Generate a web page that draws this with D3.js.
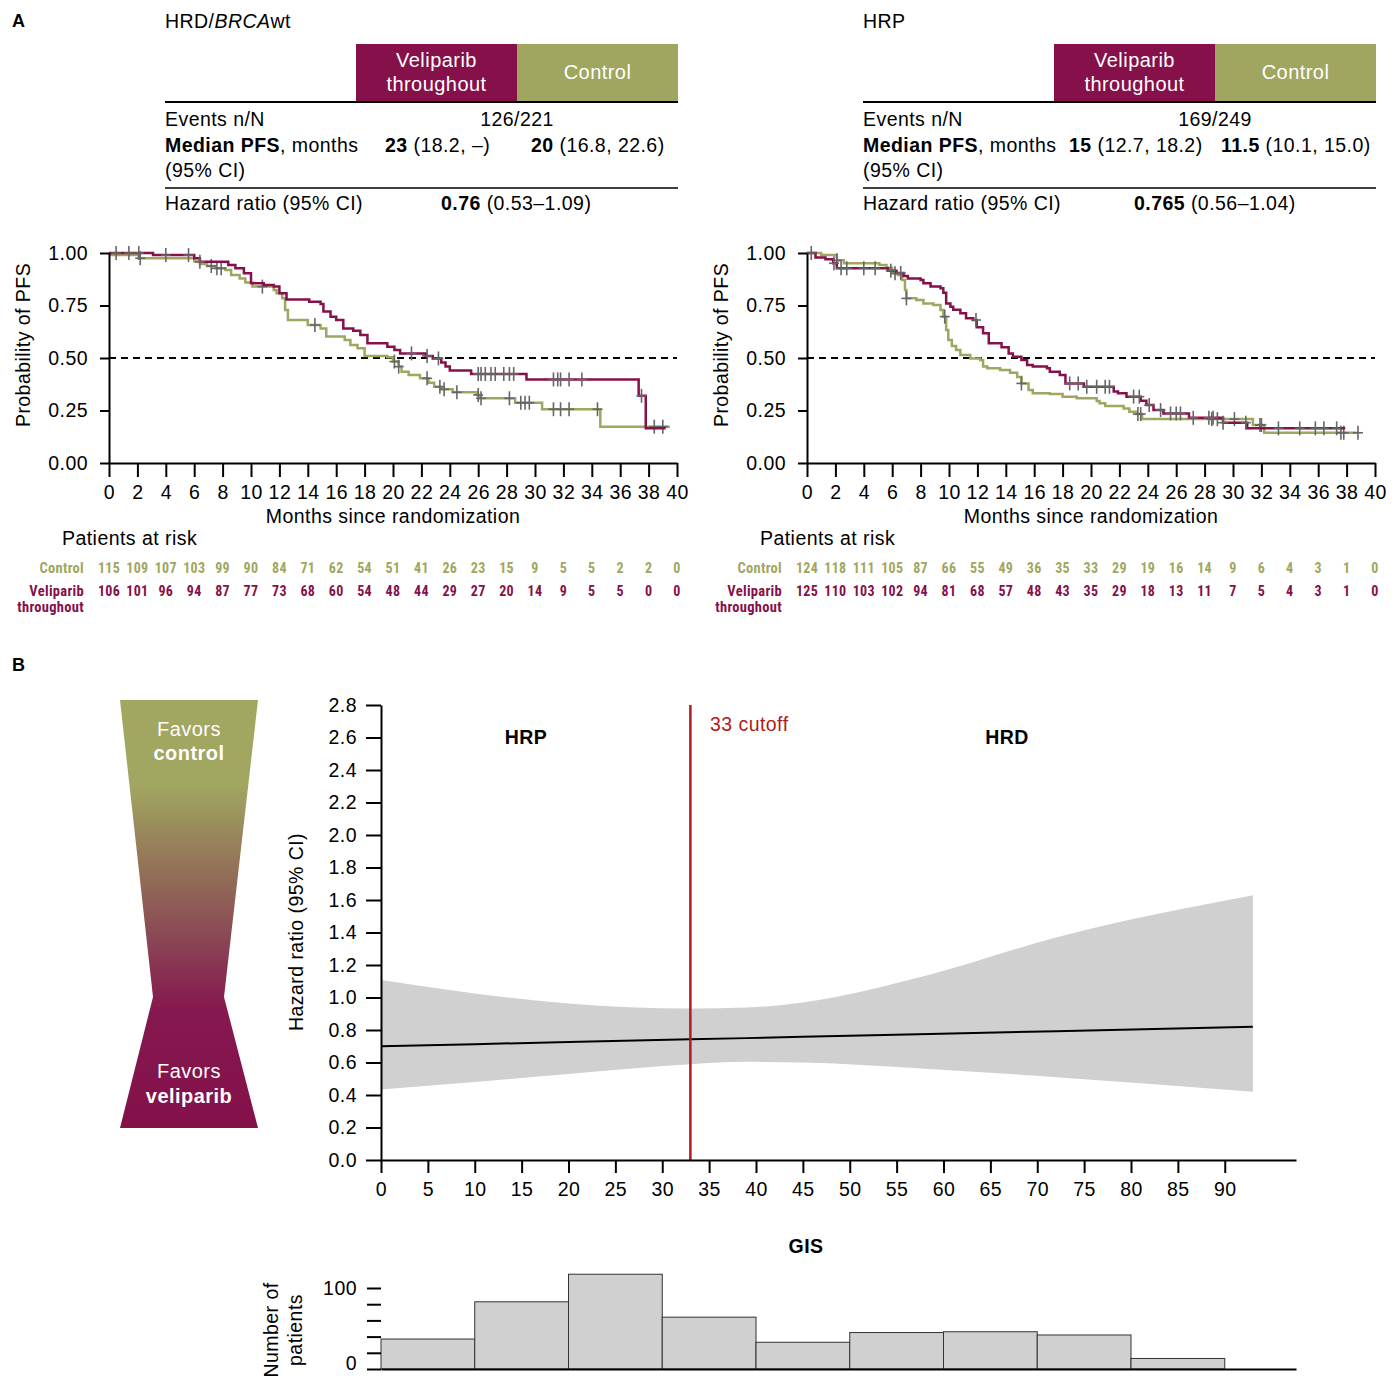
<!DOCTYPE html>
<html>
<head>
<meta charset="utf-8">
<script src="https://cdn.jsdelivr.net/npm/d3@7"></script>
<style>
  body { margin: 0; background: #fff; }
  svg { font-family: "Liberation Sans", Arial, sans-serif; }
  svg text { letter-spacing: 0.45px; }
  svg text.narrow { font-family: "Liberation Sans Narrow", "Arial Narrow", "Roboto Condensed", "Liberation Sans", sans-serif; letter-spacing: 0.3px; }
</style>
</head>
<body>
<svg id="fig" width="1399" height="1378"></svg>
<script>
// ---- data ----
const PURPLE = "#85104a", GREEN = "#a0a660", CENS = "#666";
const FS = 19.5; // base font size

const riskMonths = d3.range(0, 42, 2);
const riskLeftControl = [115,109,107,103,99,90,84,71,62,54,51,41,26,23,15,9,5,5,2,2,0];
const riskLeftVeli    = [106,101,96,94,87,77,73,68,60,54,48,44,29,27,20,14,9,5,5,0,0];
const riskRightControl = [124,118,111,105,87,66,55,49,36,35,33,29,19,16,14,9,6,4,3,1,0];
const riskRightVeli    = [125,110,103,102,94,81,68,57,48,43,35,29,18,13,11,7,5,4,3,1,0];

// KM steps [month, survival]
const kmLeftVeli = [[0,1.0],[3.1,0.99],[6.0,0.975],[6.4,0.958],[8.4,0.943],[8.9,0.927],[9.5,0.903],[10.0,0.856],[10.9,0.848],[11.6,0.84],[12.0,0.808],[12.5,0.779],[14.1,0.768],[14.9,0.757],[15.1,0.721],[15.6,0.697],[16.0,0.681],[16.5,0.641],[17.2,0.63],[17.7,0.61],[18.2,0.57],[19.6,0.554],[20.1,0.538],[20.5,0.522],[22.3,0.51],[22.8,0.498],[23.4,0.478],[23.7,0.459],[24.0,0.44],[25.5,0.424],[29.4,0.398],[37.3,0.32],[37.8,0.165]];
const kmLeftVeliEnd = 39.2;
const kmLeftCtrl = [[0,0.991],[2.1,0.975],[6.0,0.959],[6.4,0.948],[6.9,0.938],[7.5,0.927],[8.2,0.919],[8.6,0.895],[9.2,0.879],[9.6,0.859],[10.1,0.84],[11.6,0.824],[11.8,0.808],[12.2,0.784],[12.4,0.729],[12.6,0.681],[14.0,0.657],[14.9,0.641],[15.3,0.602],[16.6,0.586],[17.0,0.562],[17.5,0.546],[18.0,0.51],[19.6,0.503],[20.0,0.483],[20.4,0.459],[20.6,0.435],[21.1,0.419],[21.9,0.403],[22.5,0.382],[22.9,0.363],[23.4,0.351],[24.2,0.337],[25.9,0.324],[26.1,0.308],[28.6,0.287],[30.5,0.256],[34.6,0.173]];
const kmLeftCtrlEnd = 39.5;
const censLeftVeli = [0.5,1.4,2.1,4.0,5.6,6.4,21.3,22.4,23.2,26.0,26.2,26.5,26.9,27.2,27.8,28.2,28.5,31.3,31.6,31.8,32.4,33.3,37.5];
const censLeftCtrl = [2.2,7.2,7.6,7.9,10.8,14.5,20.1,20.4,22.4,23.3,23.6,24.5,26.0,26.2,28.2,29.0,29.3,29.6,31.3,31.8,32.4,34.4,38.4,39.0];

const kmRightVeli = [[0,1.0],[0.6,0.979],[1.3,0.97],[1.85,0.951],[2.1,0.927],[5.7,0.916],[6.3,0.905],[6.8,0.89],[7.1,0.879],[8.0,0.871],[8.2,0.856],[8.7,0.84],[9.4,0.832],[9.6,0.811],[9.8,0.76],[10.1,0.744],[10.3,0.73],[10.8,0.713],[11.2,0.689],[11.7,0.681],[11.95,0.646],[12.4,0.618],[12.8,0.57],[13.7,0.551],[14.2,0.522],[14.5,0.506],[15.1,0.49],[15.5,0.467],[15.9,0.459],[16.9,0.451],[17.1,0.435],[17.8,0.419],[18.2,0.379],[19.5,0.363],[21.6,0.34],[21.9,0.332],[22.5,0.316],[23.5,0.297],[23.9,0.276],[24.4,0.252],[25.1,0.236],[26.9,0.215],[29.3,0.192],[31.0,0.165]];
const kmRightVeliEnd = 37.9;
const kmRightCtrl = [[0,1.0],[1.0,0.99],[2.1,0.965],[2.6,0.951],[5.1,0.943],[5.6,0.93],[6.0,0.903],[6.4,0.895],[6.7,0.871],[6.9,0.824],[7.0,0.784],[7.7,0.776],[8.2,0.76],[8.9,0.752],[9.4,0.729],[9.6,0.697],[9.8,0.633],[9.95,0.586],[10.2,0.557],[10.5,0.538],[10.8,0.514],[11.5,0.498],[12.2,0.49],[12.4,0.459],[12.7,0.451],[13.6,0.443],[14.3,0.43],[14.8,0.41],[15.1,0.379],[15.6,0.348],[15.9,0.332],[17.1,0.328],[18.0,0.316],[19.0,0.308],[20.4,0.295],[20.6,0.284],[21.0,0.271],[22.3,0.26],[22.7,0.244],[23.2,0.233],[23.6,0.209],[31.4,0.181],[32.2,0.144]];
const kmRightCtrlEnd = 38.7;
const censRightVeli = [0.3,1.9,2.4,2.8,4.0,4.8,5.9,6.6,11.9,18.5,19.1,19.7,20.4,21.0,21.3,23.0,23.4,24.1,24.9,25.6,26.0,26.3,27.2,28.3,28.6,29.3,30.9,33.2,34.7,35.8,36.4,37.3];
const censRightCtrl = [2.1,6.2,7.0,9.7,15.1,23.3,23.5,28.5,28.9,30.1,31.9,32.0,37.6,37.8,38.8];

// panel B: spline HR by GIS score
const gisX    = [0, 10, 20, 33, 39, 45, 58.5, 72, 93];
const hrFit   = [0.70, 0.713, 0.726, 0.743, 0.75, 0.758, 0.776, 0.793, 0.82];
const hrUpper = [1.107, 1.025, 0.963, 0.932, 0.938, 0.97, 1.14, 1.37, 1.63];
const hrLower = [0.434, 0.48, 0.53, 0.59, 0.604, 0.60, 0.56, 0.51, 0.42];
const gisCutoff = 33;
const hrTicks = d3.range(0, 2.81, 0.2);
const gisTicks = d3.range(0, 91, 5);

// GIS histogram
const gisBinStart = [0, 10, 20, 30, 40, 50, 60, 70, 80];
const gisCounts   = [37, 83, 117, 64, 33, 45, 46, 42, 13];

// ---- drawing ----
const svg = d3.select("#fig");

function styleAxis(g) {
  g.selectAll("path, line").attr("stroke", "#000").attr("stroke-width", 2);
  g.selectAll("text").attr("font-size", FS).attr("fill", "#000")
    .attr("font-family", '"Liberation Sans", Arial, sans-serif');
}

function survAt(steps, t) {
  let s = steps[0][1];
  steps.forEach(d => { if (d[0] <= t) s = d[1]; });
  return s;
}

function drawHeader(dx, cfg) {
  const g = svg.append("g").attr("transform", `translate(${dx},0)`);
  const t = g.append("text").attr("x", 165).attr("y", 28).attr("font-size", FS);
  cfg.title.forEach(p => t.append("tspan").text(p[0]).attr("font-style", p[1] ? "italic" : null));

  g.append("rect").attr("x", 356).attr("y", 44).attr("width", 161).attr("height", 58).attr("fill", PURPLE);
  g.append("rect").attr("x", 517).attr("y", 44).attr("width", 161).attr("height", 58).attr("fill", GREEN);
  g.append("text").attr("x", 436.5).attr("y", 67).attr("text-anchor", "middle").attr("fill", "#fff").attr("font-size", 20).text("Veliparib");
  g.append("text").attr("x", 436.5).attr("y", 91).attr("text-anchor", "middle").attr("fill", "#fff").attr("font-size", 20).text("throughout");
  g.append("text").attr("x", 597.5).attr("y", 79).attr("text-anchor", "middle").attr("fill", "#fff").attr("font-size", 20).text("Control");

  g.append("line").attr("x1", 165).attr("x2", 678).attr("y1", 102).attr("y2", 102).attr("stroke", "#000").attr("stroke-width", 2);
  g.append("line").attr("x1", 165).attr("x2", 678).attr("y1", 188).attr("y2", 188).attr("stroke", "#000").attr("stroke-width", 1.5);

  const txt = (x, y, parts, anchor) => {
    const e = g.append("text").attr("x", x).attr("y", y).attr("font-size", FS).attr("text-anchor", anchor || "start");
    parts.forEach(p => e.append("tspan").text(p[0]).attr("font-weight", p[1] ? "bold" : null));
  };
  txt(165, 126, [["Events n/N", 0]]);
  txt(517, 126, [[cfg.events, 0]], "middle");
  txt(165, 152, [["Median PFS", 1], [", months", 0]]);
  txt(cfg.medVx, 152, [[cfg.medV[0], 1], [cfg.medV[1], 0]]);
  txt(cfg.medCx, 152, [[cfg.medC[0], 1], [cfg.medC[1], 0]]);
  txt(165, 177, [["(95% CI)", 0]]);
  txt(165, 210, [["Hazard ratio (95% CI)", 0]]);
  txt(cfg.hrx, 210, [[cfg.hr[0], 1], [cfg.hr[1], 0]]);
}

function drawKM(dx, veli, veliEnd, ctrl, ctrlEnd, censV, censC, riskC, riskV) {
  const x = d3.scaleLinear().domain([0, 40]).range([109 + dx, 677 + dx]);
  const y = d3.scaleLinear().domain([0, 1]).range([463, 253]);

  svg.append("line").attr("x1", x(0)).attr("x2", x(40)).attr("y1", y(0.5)).attr("y2", y(0.5))
    .attr("stroke", "#000").attr("stroke-width", 2).attr("stroke-dasharray", "7,5");

  const line = d3.line().x(d => x(d[0])).y(d => y(d[1])).curve(d3.curveStepAfter);
  [[ctrl, ctrlEnd, GREEN, censC], [veli, veliEnd, PURPLE, censV]].forEach(([steps, end, col, cens]) => {
    const pts = steps.concat([[end, steps[steps.length - 1][1]]]);
    svg.append("path").attr("d", line(pts)).attr("fill", "none").attr("stroke", col).attr("stroke-width", 2.5);
    const cg = svg.append("g").attr("stroke", CENS).attr("stroke-width", 1.6);
    cens.forEach(t => {
      const cx = x(t), cy = y(survAt(steps, t));
      cg.append("line").attr("x1", cx).attr("x2", cx).attr("y1", cy - 7).attr("y2", cy + 7);
      cg.append("line").attr("x1", cx - 5).attr("x2", cx + 5).attr("y1", cy).attr("y2", cy);
    });
  });

  svg.append("g").attr("transform", "translate(0,463)")
    .call(d3.axisBottom(x).tickValues(riskMonths).tickSize(14).tickPadding(8).tickSizeOuter(0))
    .call(styleAxis);
  svg.append("g").attr("transform", `translate(${109 + dx},0)`)
    .call(d3.axisLeft(y).tickValues([0, 0.25, 0.5, 0.75, 1]).tickFormat(d3.format(".2f")).tickSize(9).tickPadding(12).tickSizeOuter(0))
    .call(styleAxis);

  svg.append("text").attr("x", x(20)).attr("y", 523).attr("text-anchor", "middle").attr("font-size", FS).text("Months since randomization");
  svg.append("text").attr("transform", `translate(${30 + dx},345) rotate(-90)`).attr("text-anchor", "middle").attr("font-size", FS).text("Probability of PFS");

  svg.append("text").attr("x", 62 + dx).attr("y", 545).attr("font-size", FS).text("Patients at risk");
  const rows = [[riskC, GREEN, 573, ["Control"]], [riskV, PURPLE, 596, ["Veliparib", "throughout"]]];
  rows.forEach(([vals, col, yy, label]) => {
    label.forEach((l, i) => svg.append("text").attr("class", "narrow").attr("x", 84 + dx).attr("y", yy + i * 16)
      .attr("text-anchor", "end").attr("font-size", 14.5).attr("font-weight", "bold").attr("fill", col).text(l));
    vals.forEach((v, i) => svg.append("text").attr("class", "narrow").attr("x", x(riskMonths[i])).attr("y", yy)
      .attr("text-anchor", "middle").attr("font-size", 14).attr("font-weight", "bold").attr("fill", col).text(v));
  });
}

svg.append("text").attr("x", 12).attr("y", 27).attr("font-size", 18).attr("font-weight", "bold").text("A");
drawHeader(0, { title: [["HRD/", 0], ["BRCA", 1], ["wt", 0]], events: "126/221",
  medVx: 385, medV: ["23", " (18.2, \u2013)"], medCx: 531, medC: ["20", " (16.8, 22.6)"], hrx: 441, hr: ["0.76", " (0.53\u20131.09)"] });
drawHeader(698, { title: [["HRP", 0]], events: "169/249",
  medVx: 371, medV: ["15", " (12.7, 18.2)"], medCx: 523, medC: ["11.5", " (10.1, 15.0)"], hrx: 436, hr: ["0.765", " (0.56\u20131.04)"] });
drawKM(0, kmLeftVeli, kmLeftVeliEnd, kmLeftCtrl, kmLeftCtrlEnd, censLeftVeli, censLeftCtrl, riskLeftControl, riskLeftVeli);
drawKM(698, kmRightVeli, kmRightVeliEnd, kmRightCtrl, kmRightCtrlEnd, censRightVeli, censRightCtrl, riskRightControl, riskRightVeli);

// ---- panel B ----
svg.append("text").attr("x", 12).attr("y", 671).attr("font-size", 18).attr("font-weight", "bold").text("B");

const grad = svg.append("defs").append("linearGradient").attr("id", "fav")
  .attr("gradientUnits", "userSpaceOnUse").attr("x1", 0).attr("x2", 0).attr("y1", 700).attr("y2", 1128);
[[0, "#a1a660"], [0.2, "#a1a660"], [0.38, "#947558"], [0.55, "#8a4955"], [0.72, "#85194f"], [1, "#84104a"]]
  .forEach(s => grad.append("stop").attr("offset", s[0]).attr("stop-color", s[1]));
svg.append("polygon").attr("points", "120,700 258,700 224,997 258,1128 120,1128 153,997").attr("fill", "url(#fav)");
[["Favors", 736, null], ["control", 760, "bold"], ["Favors", 1078, null], ["veliparib", 1103, "bold"]].forEach(d =>
  svg.append("text").attr("x", 189).attr("y", d[1]).attr("text-anchor", "middle").attr("fill", "#fff")
    .attr("font-size", 20).attr("font-weight", d[2]).text(d[0]));

const gx = d3.scaleLinear().domain([0, 97.6]).range([381, 1296]);
const gy = d3.scaleLinear().domain([0, 2.8]).range([1160, 705]);
const band = gisX.map((g, i) => ({ g, lo: hrLower[i], hi: hrUpper[i], fit: hrFit[i] }));

svg.append("path").datum(band).attr("fill", "#d0d0d0")
  .attr("d", d3.area().x(d => gx(d.g)).y0(d => gy(d.lo)).y1(d => gy(d.hi)).curve(d3.curveMonotoneX));
svg.append("path").datum(band).attr("fill", "none").attr("stroke", "#000").attr("stroke-width", 2)
  .attr("d", d3.line().x(d => gx(d.g)).y(d => gy(d.fit)));
svg.append("line").attr("x1", gx(gisCutoff)).attr("x2", gx(gisCutoff)).attr("y1", gy(2.8)).attr("y2", gy(0))
  .attr("stroke", "#b01c1c").attr("stroke-width", 2.5);

svg.append("g").attr("transform", "translate(0,1160)")
  .call(d3.axisBottom(gx).tickValues(gisTicks).tickSize(13).tickPadding(9).tickSizeOuter(0))
  .call(styleAxis);
svg.append("g").attr("transform", "translate(381,0)")
  .call(d3.axisLeft(gy).tickValues(hrTicks).tickFormat(d3.format(".1f")).tickSize(15).tickPadding(9).tickSizeOuter(0))
  .call(styleAxis);

svg.append("text").attr("transform", "translate(303,932) rotate(-90)").attr("text-anchor", "middle").attr("font-size", FS).text("Hazard ratio (95% CI)");
svg.append("text").attr("x", 526).attr("y", 744).attr("text-anchor", "middle").attr("font-size", FS).attr("font-weight", "bold").text("HRP");
svg.append("text").attr("x", 1007).attr("y", 744).attr("text-anchor", "middle").attr("font-size", FS).attr("font-weight", "bold").text("HRD");
svg.append("text").attr("x", 710).attr("y", 731).attr("font-size", FS).attr("fill", "#b01c1c").text(gisCutoff + " cutoff");

// histogram
const hy = d3.scaleLinear().domain([0, 100]).range([1369, 1288]);
svg.append("text").attr("x", 806).attr("y", 1253).attr("text-anchor", "middle").attr("font-size", FS).attr("font-weight", "bold").text("GIS");
svg.append("g").selectAll("rect").data(gisBinStart).join("rect")
  .attr("x", d => gx(d)).attr("width", d => gx(d + 10) - gx(d))
  .attr("y", (d, i) => hy(gisCounts[i])).attr("height", (d, i) => hy(0) - hy(gisCounts[i]))
  .attr("fill", "#d0d0d0").attr("stroke", "#333").attr("stroke-width", 1);
svg.append("g").attr("transform", "translate(0,1369)")
  .call(d3.axisBottom(gx).tickValues([]).tickSizeOuter(0)).call(styleAxis);
svg.append("g").attr("transform", "translate(381,0)")
  .call(d3.axisLeft(hy).tickValues(d3.range(0, 101, 20)).tickFormat(d => (d === 0 || d === 100) ? d : "").tickSize(14).tickPadding(10).tickSizeOuter(0))
  .call(styleAxis)
  .call(g => g.select(".domain").remove())
  .call(g => g.selectAll(".tick text").filter(d => d === 0).attr("dy", "0.05em"));
svg.append("text").attr("transform", "translate(278,1330) rotate(-90)").attr("text-anchor", "middle").attr("font-size", FS).text("Number of");
svg.append("text").attr("transform", "translate(302,1330) rotate(-90)").attr("text-anchor", "middle").attr("font-size", FS).text("patients");
</script>
</body>
</html>
